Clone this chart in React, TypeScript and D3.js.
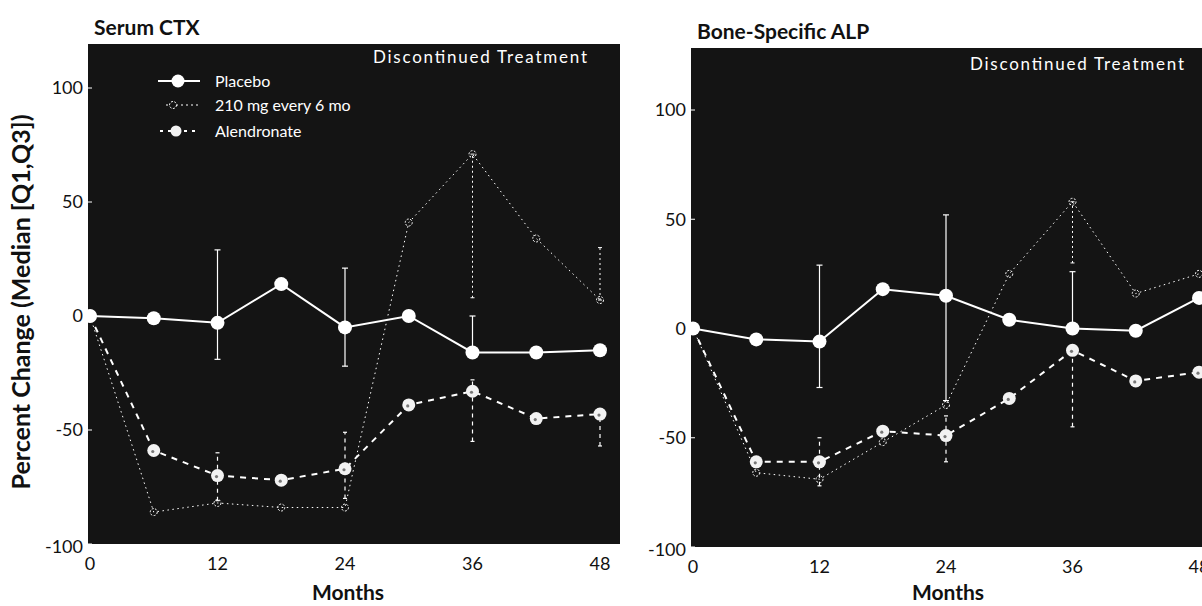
import React from 'react';
import * as d3 from 'd3';

// months at which the markers were measured
const months = [0, 6, 12, 18, 24, 30, 36, 42, 48];
const xTicks = [0, 12, 24, 36, 48];
const yTicks = [-100, -50, 0, 50, 100];

// Serum CTX, percent change (median)
const ctxPlacebo = [0, -1, -3, 14, -5, 0, -16, -16, -15];
const ctxDmab = [0, -86, -82, -84, -84, 41, 71, 34, 7];
const ctxAlendronate = [0, -59, -70, -72, -67, -39, -33, -45, -43];

// Bone-specific ALP, percent change (median)
const alpPlacebo = [0, -5, -6, 18, 15, 4, 0, -1, 14];
const alpDmab = [0, -66, -69, -52, -35, 25, 58, 16, 25];
const alpAlendronate = [0, -61, -61, -47, -49, -32, -10, -24, -20];

// [month, Q1, Q3]
type Bar = [number, number, number];
const ctxPlaceboBars: Bar[] = [[12, -19, 29], [24, -22, 21], [36, -16, 0]];
const ctxDmabBars: Bar[] = [[36, 8, 71], [48, 7, 30]];
const ctxAlendronateBars: Bar[] = [[12, -81, -60], [24, -80, -51], [36, -55, -28], [48, -57, -43]];
const alpPlaceboBars: Bar[] = [[12, -27, 29], [24, -33, 52], [36, 0, 26]];
const alpDmabBars: Bar[] = [[36, 30, 58]];
const alpAlendronateBars: Bar[] = [[12, -72, -50], [24, -61, -40], [36, -45, -10]];

const legendLabels = ['Placebo', '210 mg every 6 mo', 'Alendronate'];

const FONT = 'Lato, "Noto Sans", sans-serif';
const BG = '#141414';

type PanelProps = {
  title: string;
  x0: number; x48: number; frameL: number; frameR: number;
  y100: number; yM100: number; frameT: number; frameB: number;
  placebo: number[]; dmab: number[]; alendronate: number[];
  placeboBars: Bar[]; dmabBars: Bar[]; alendronateBars: Bar[];
  titleY: number; discX: number; discY: number; monthsX: number;
  legend?: boolean;
};

const Panel = (p: PanelProps) => {
  const x = d3.scaleLinear().domain([0, 48]).range([p.x0, p.x48]);
  const y = d3.scaleLinear().domain([-100, 100]).range([p.yM100, p.y100]);
  const line = d3.line<number>().x((_, i) => x(months[i])).y(v => y(v));

  const bars = (list: Bar[], dash: string, w: number, cap: number) =>
    list.map(([m, lo, hi], i) => (
      <g key={i} stroke="#fff" strokeWidth={w}>
        <line x1={x(m)} x2={x(m)} y1={y(lo)} y2={y(hi)} strokeDasharray={dash} />
        <line x1={x(m) - cap} x2={x(m) + cap} y1={y(lo)} y2={y(lo)} />
        <line x1={x(m) - cap} x2={x(m) + cap} y1={y(hi)} y2={y(hi)} />
      </g>
    ));

  return (
    <g>
      <text x={p.frameL + 6} y={p.titleY} fontFamily={FONT} fontWeight="bold" fontSize={21} fill="#111">{p.title}</text>
      <rect x={p.frameL} y={p.frameT} width={p.frameR - p.frameL} height={p.frameB - p.frameT} fill={BG} />

      {yTicks.map(t => (
        <g key={t}>
          <line x1={p.frameL} x2={p.frameL + 4} y1={y(t)} y2={y(t)} stroke="#fff" strokeWidth={1} />
          <text x={p.frameL - 5} y={y(t)} dy={t === -100 ? '0.5em' : '0.35em'} textAnchor="end" fontFamily={FONT} fontSize={18} fill="#111">{t}</text>
        </g>
      ))}
      {xTicks.map(t => (
        <text key={t} x={x(t)} y={p.frameB + 26} textAnchor="middle" fontFamily={FONT} fontSize={18} fill="#111">{t}</text>
      ))}
      <text x={p.monthsX} y={600} textAnchor="middle" fontFamily={FONT} fontWeight="bold" fontSize={21} fill="#111">Months</text>

      <text x={p.discX} y={p.discY} dy="0.35em" textAnchor="middle" fontFamily={FONT} fontSize={17}
        textLength={214} lengthAdjust="spacing" fill="#fff">Discontinued Treatment</text>

      {bars(p.placeboBars, 'none', 1.2, 3)}
      {bars(p.dmabBars, '2,3', 1, 2)}
      {bars(p.alendronateBars, '4,4', 1.2, 2)}

      <path d={line(p.dmab) ?? ''} fill="none" stroke="#fff" strokeWidth={1} strokeDasharray="1.5,3.5" />
      <path d={line(p.alendronate) ?? ''} fill="none" stroke="#fff" strokeWidth={2} strokeDasharray="6,6" />
      <path d={line(p.placebo) ?? ''} fill="none" stroke="#fff" strokeWidth={2} />

      {p.dmab.map((v, i) => (
        <circle key={'d' + i} cx={x(months[i])} cy={y(v)} r={3.5} fill="none" stroke="#fff" strokeWidth={1} strokeDasharray="2,1.5" />
      ))}
      {p.alendronate.map((v, i) => (
        <g key={'a' + i}>
          <circle cx={x(months[i])} cy={y(v)} r={6.5} fill="#f2f2f2" />
          <circle cx={x(months[i]) - 1} cy={y(v) + 1} r={1.6} fill="#777" />
        </g>
      ))}
      {p.placebo.map((v, i) => (
        <circle key={'p' + i} cx={x(months[i])} cy={y(v)} r={7} fill="#fff" />
      ))}

      {p.legend && (
        <g fontFamily={FONT} fontSize={16} fill="#fff">
          {legendLabels.map((lab, i) => {
            const ly = [81, 105, 131][i];
            return (
              <g key={lab}>
                {i === 0 && <line x1={158} x2={200} y1={ly} y2={ly} stroke="#fff" strokeWidth={2} />}
                {i === 0 && <circle cx={178} cy={ly} r={6.5} fill="#fff" />}
                {i === 1 && <line x1={166} x2={200} y1={ly} y2={ly} stroke="#fff" strokeWidth={1} strokeDasharray="2,3" />}
                {i === 1 && <circle cx={173} cy={ly} r={3.5} fill={BG} stroke="#fff" strokeWidth={1} strokeDasharray="2,1.5" />}
                {i === 2 && <line x1={160} x2={197} y1={ly} y2={ly} stroke="#fff" strokeWidth={2} strokeDasharray="3,5" />}
                {i === 2 && <circle cx={176} cy={ly} r={5.5} fill="#f2f2f2" />}
                <text x={215} y={ly} dy="0.35em">{lab}</text>
              </g>
            );
          })}
        </g>
      )}
    </g>
  );
};

export default function App() {
  return (
    <div style={{ position: 'absolute', left: 0, top: 0 }}>
      <svg width={1202} height={606} style={{ display: 'block', background: '#fff' }}>
        <Panel
          title="Serum CTX"
          x0={90} x48={600} frameL={88} frameR={620}
          y100={88} yM100={544} frameT={44} frameB={544}
          placebo={ctxPlacebo} dmab={ctxDmab} alendronate={ctxAlendronate}
          placeboBars={ctxPlaceboBars} dmabBars={ctxDmabBars} alendronateBars={ctxAlendronateBars}
          titleY={35} discX={480} discY={57} monthsX={348} legend
        />
        <Panel
          title="Bone-Specific ALP"
          x0={693} x48={1199} frameL={691} frameR={1202}
          y100={110} yM100={547} frameT={48} frameB={547}
          placebo={alpPlacebo} dmab={alpDmab} alendronate={alpAlendronate}
          placeboBars={alpPlaceboBars} dmabBars={alpDmabBars} alendronateBars={alpAlendronateBars}
          titleY={39} discX={1077} discY={64} monthsX={948}
        />
        <text
          transform="translate(30,302) rotate(-90)"
          textAnchor="middle" fontFamily={FONT} fontWeight="bold" fontSize={25} fill="#111"
        >
          Percent Change (Median [Q1,Q3])
        </text>
      </svg>
    </div>
  );
}
